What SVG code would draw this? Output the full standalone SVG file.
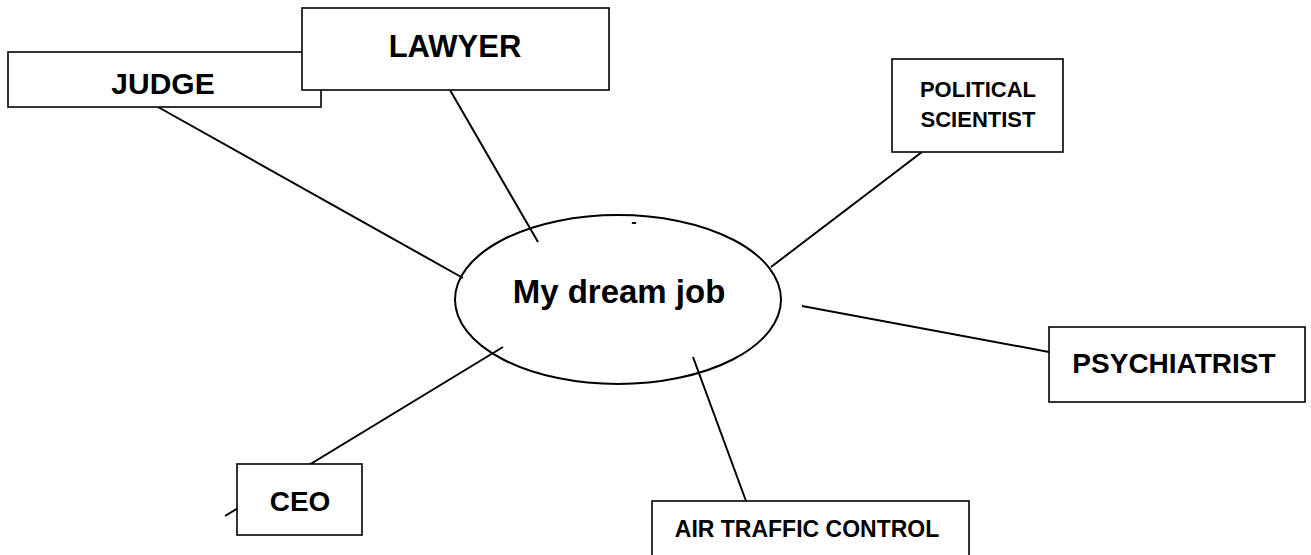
<svg xmlns="http://www.w3.org/2000/svg" width="1311" height="555" viewBox="0 0 1311 555">
<style>
.box{fill:#fff;stroke:#000;stroke-width:1.6}
.lbl{font-family:"Liberation Sans",Arial,sans-serif;font-weight:bold;fill:#000;text-anchor:middle}
.conn line{stroke:#000;stroke-width:2}
</style>
<rect width="1311" height="555" fill="#fff"/>
<g id="center">
<ellipse cx="618" cy="299.5" rx="163" ry="84.5" fill="#fff" stroke="#000" stroke-width="2"/>
<text class="lbl" x="619" y="303" font-size="33">My dream job</text>
<text class="lbl" x="634" y="227" font-size="16">-</text>
</g>
<g id="connectors" class="conn">
<line x1="158" y1="107" x2="463" y2="278"/>
<line x1="450" y1="90" x2="538" y2="242"/>
<line x1="922" y1="152" x2="771" y2="267"/>
<line x1="802" y1="306" x2="1049" y2="352"/>
<line x1="693" y1="357" x2="746" y2="501"/>
<line x1="503" y1="347" x2="225" y2="516"/>
</g>
<g id="judge">
<rect class="box" x="8" y="52" width="313" height="55"/>
<text class="lbl" x="163" y="94" font-size="30">JUDGE</text>
</g>
<g id="lawyer">
<rect class="box" x="302" y="8" width="307" height="82"/>
<text class="lbl" x="455" y="57" font-size="31">LAWYER</text>
</g>
<g id="political-scientist">
<rect class="box" x="892" y="59" width="171" height="93"/>
<text class="lbl" x="978" y="97" font-size="22">POLITICAL</text>
<text class="lbl" x="978" y="127" font-size="22">SCIENTIST</text>
</g>
<g id="psychiatrist">
<rect class="box" x="1049" y="327" width="256" height="75"/>
<text class="lbl" x="1174" y="373" font-size="28">PSYCHIATRIST</text>
</g>
<g id="ceo">
<rect class="box" x="237" y="464" width="125" height="71"/>
<text class="lbl" x="300" y="511" font-size="28">CEO</text>
</g>
<g id="air-traffic-control">
<rect class="box" x="652" y="501" width="317" height="80"/>
<text class="lbl" x="807" y="537" font-size="23">AIR TRAFFIC CONTROL</text>
</g>
</svg>
